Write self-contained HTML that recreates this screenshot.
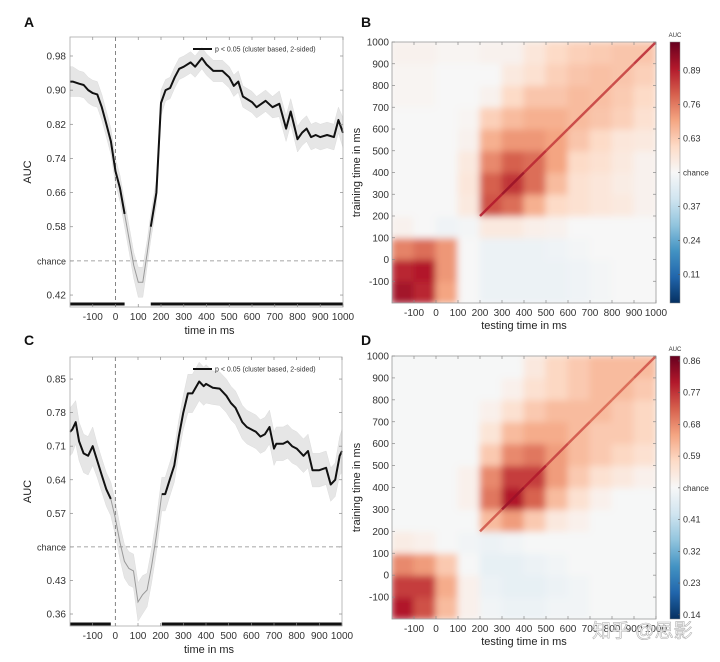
<!DOCTYPE html>
<html><head><meta charset="utf-8"><style>
html,body{margin:0;padding:0;background:#fff;}
svg{display:block;font-family:"Liberation Sans","Noto Sans CJK SC",sans-serif;}
</style></head><body>
<svg id="fig" width="720" height="662" viewBox="0 0 720 662">
<defs>
<filter id="blur" x="-5%" y="-5%" width="110%" height="110%"><feGaussianBlur stdDeviation="3.5"/></filter>
<clipPath id="clipB"><rect x="392" y="42" width="264" height="261"/></clipPath>
<clipPath id="clipD"><rect x="392" y="356" width="264" height="263"/></clipPath>
<linearGradient id="cbar" x1="0" y1="1" x2="0" y2="0">
<stop offset="0" stop-color="#053061"/><stop offset="0.1" stop-color="#2166ac"/><stop offset="0.2" stop-color="#4393c3"/><stop offset="0.3" stop-color="#92c5de"/><stop offset="0.4" stop-color="#d1e5f0"/><stop offset="0.5" stop-color="#f7f7f7"/><stop offset="0.6" stop-color="#fddbc7"/><stop offset="0.7" stop-color="#f4a582"/><stop offset="0.8" stop-color="#d6604d"/><stop offset="0.9" stop-color="#b2182b"/><stop offset="1" stop-color="#67001f"/>
</linearGradient>
</defs>
</svg>
<script>
// ---------- Data ----------
const timesA=[-200,-188,-160,-140,-120,-100,-80,-60,-40,-20,0,20,40,60,80,100,120,140,155,180,200,220,240,260,280,300,330,350,380,400,430,470,500,520,540,560,600,620,660,690,720,750,770,800,820,840,860,880,900,930,960,980,1000];
const aucA=[0.92,0.92,0.915,0.912,0.90,0.893,0.89,0.86,0.82,0.78,0.71,0.67,0.61,0.55,0.49,0.45,0.45,0.52,0.58,0.66,0.87,0.90,0.905,0.93,0.95,0.955,0.965,0.955,0.975,0.96,0.945,0.945,0.93,0.91,0.92,0.885,0.872,0.86,0.875,0.86,0.868,0.81,0.85,0.785,0.80,0.81,0.79,0.795,0.79,0.795,0.79,0.83,0.80];
const errA=[0.035,0.035,0.03,0.03,0.03,0.03,0.03,0.03,0.03,0.03,0.03,0.03,0.03,0.03,0.03,0.035,0.035,0.03,0.03,0.03,0.03,0.025,0.025,0.025,0.025,0.025,0.025,0.025,0.025,0.025,0.025,0.025,0.025,0.025,0.025,0.025,0.025,0.025,0.025,0.025,0.03,0.03,0.03,0.03,0.03,0.03,0.03,0.03,0.03,0.03,0.03,0.03,0.035];
const sigA=[[-200,40],[155,1000]];
const ticksA=[0.42,0.58,0.66,0.74,0.82,0.90,0.98];
const timesC=[-200,-190,-175,-160,-140,-120,-100,-80,-60,-40,-20,0,20,40,60,80,100,120,140,160,180,205,220,240,260,280,300,320,340,370,390,400,430,460,490,510,530,560,580,620,640,660,680,700,710,740,760,780,800,830,850,870,900,930,950,970,990,1000];
const aucC=[0.74,0.745,0.76,0.72,0.695,0.69,0.71,0.68,0.65,0.62,0.60,0.56,0.51,0.47,0.455,0.45,0.385,0.40,0.41,0.46,0.52,0.61,0.61,0.64,0.67,0.73,0.78,0.82,0.82,0.845,0.835,0.84,0.832,0.83,0.815,0.80,0.79,0.76,0.75,0.74,0.73,0.735,0.75,0.705,0.715,0.715,0.72,0.71,0.705,0.69,0.70,0.66,0.66,0.665,0.63,0.64,0.69,0.70];
const errC=[0.05,0.05,0.045,0.04,0.04,0.04,0.04,0.035,0.035,0.035,0.035,0.035,0.035,0.035,0.035,0.035,0.04,0.04,0.035,0.035,0.035,0.035,0.035,0.035,0.035,0.035,0.035,0.04,0.04,0.04,0.04,0.04,0.035,0.035,0.035,0.035,0.035,0.035,0.035,0.035,0.035,0.035,0.035,0.035,0.035,0.035,0.035,0.035,0.035,0.035,0.035,0.035,0.035,0.035,0.035,0.035,0.04,0.045];
const sigC=[[-200,-20],[205,1000]];
const ticksC=[0.36,0.43,0.57,0.64,0.71,0.78,0.85];
const xTicks=[-100,0,100,200,300,400,500,600,700,800,900,1000];
const hmTicks=[-100,0,100,200,300,400,500,600,700,800,900,1000];
const binEdges=[-200,-100,0,100,200,300,400,500,600,700,800,900,1000];
const matB=[
[0.92,0.88,0.70,0.50,0.47,0.47,0.47,0.47,0.48,0.49,0.50,0.50],
[0.88,0.90,0.72,0.50,0.47,0.47,0.47,0.47,0.48,0.49,0.50,0.50],
[0.75,0.78,0.72,0.50,0.47,0.47,0.47,0.48,0.49,0.50,0.50,0.50],
[0.52,0.50,0.48,0.49,0.55,0.55,0.53,0.52,0.50,0.50,0.50,0.50],
[0.50,0.50,0.50,0.55,0.82,0.78,0.68,0.60,0.58,0.56,0.55,0.52],
[0.50,0.50,0.50,0.56,0.80,0.86,0.78,0.66,0.58,0.56,0.54,0.52],
[0.50,0.50,0.50,0.55,0.74,0.80,0.78,0.70,0.60,0.58,0.55,0.52],
[0.50,0.50,0.50,0.52,0.68,0.72,0.72,0.70,0.64,0.60,0.56,0.55],
[0.50,0.50,0.50,0.51,0.62,0.66,0.68,0.68,0.66,0.64,0.62,0.58],
[0.51,0.51,0.50,0.50,0.52,0.60,0.64,0.64,0.66,0.65,0.63,0.60],
[0.51,0.51,0.50,0.50,0.50,0.55,0.58,0.62,0.64,0.65,0.64,0.62],
[0.52,0.52,0.51,0.51,0.52,0.52,0.56,0.60,0.62,0.63,0.64,0.64]];
const diagB=[0.90,0.93,0.88,0.85,0.85,0.85,0.85,0.88];
const matD=[
[0.80,0.74,0.62,0.52,0.49,0.48,0.48,0.49,0.49,0.50,0.50,0.50],
[0.76,0.76,0.64,0.52,0.48,0.47,0.47,0.48,0.49,0.50,0.50,0.50],
[0.68,0.66,0.60,0.50,0.47,0.47,0.48,0.49,0.50,0.50,0.50,0.50],
[0.53,0.52,0.50,0.49,0.48,0.49,0.50,0.50,0.50,0.50,0.50,0.50],
[0.50,0.50,0.50,0.50,0.62,0.66,0.60,0.54,0.52,0.50,0.50,0.50],
[0.50,0.50,0.50,0.52,0.70,0.80,0.72,0.62,0.56,0.52,0.50,0.50],
[0.50,0.50,0.50,0.52,0.68,0.76,0.76,0.66,0.60,0.56,0.54,0.52],
[0.50,0.50,0.50,0.50,0.60,0.68,0.70,0.66,0.62,0.60,0.58,0.56],
[0.50,0.50,0.50,0.50,0.55,0.62,0.64,0.64,0.62,0.60,0.60,0.58],
[0.50,0.50,0.50,0.50,0.52,0.56,0.60,0.62,0.62,0.62,0.60,0.58],
[0.50,0.50,0.50,0.50,0.50,0.52,0.56,0.58,0.60,0.62,0.62,0.60],
[0.50,0.50,0.50,0.50,0.50,0.50,0.54,0.58,0.60,0.62,0.62,0.62]];
const diagD=[0.74,0.82,0.80,0.76,0.74,0.72,0.72,0.74];
const cbTicksB=[0.11,0.24,0.37,0.63,0.76,0.89];
const cbTicksD=[0.14,0.23,0.32,0.41,0.59,0.68,0.77,0.86];

// ---------- Helpers ----------
const svg=document.getElementById('fig');
const NS='http://www.w3.org/2000/svg';
function el(tag,attrs,parent){const e=document.createElementNS(NS,tag);for(const k in attrs)e.setAttribute(k,attrs[k]);(parent||svg).appendChild(e);return e;}
function txt(s,attrs,parent){const e=el('text',attrs,parent);e.textContent=s;return e;}
const stops=[[0,[5,48,97]],[0.1,[33,102,172]],[0.2,[67,147,195]],[0.3,[146,197,222]],[0.4,[209,229,240]],[0.5,[247,247,247]],[0.6,[253,219,199]],[0.7,[244,165,130]],[0.8,[214,96,77]],[0.9,[178,24,43]],[1,[103,0,31]]];
function cmap(t){t=Math.max(0,Math.min(1,t));for(let i=1;i<stops.length;i++){if(t<=stops[i][0]){const a=stops[i-1],b=stops[i];const f=(t-a[0])/(b[0]-a[0]);const c=a[1].map((v,j)=>Math.round(v+(b[1][j]-v)*f));return 'rgb('+c.join(',')+')';}}return 'rgb(103,0,31)';}

// ---------- Line panels ----------
function linePanel(cfg){
  const g=el('g',{});
  
  
  const X=t=>cfg.x0+(t-(-200))/(1000-(-200))*(cfg.x1-cfg.x0);
  const Y=v=>cfg.y1-(v-cfg.vmin)/(cfg.vmax-cfg.vmin)*(cfg.y1-cfg.y0);
  let up=cfg.t.map((t,i)=>X(t).toFixed(1)+','+Y(cfg.v[i]+cfg.e[i]).toFixed(1));
  let dn=cfg.t.map((t,i)=>X(t).toFixed(1)+','+Y(cfg.v[i]-cfg.e[i]).toFixed(1)).reverse();
  const band=el('polygon',{points:up.concat(dn).join(' '),fill:'#e6e6e6',stroke:'#dcdcdc','stroke-width':0.5},g);
  
  
  const ch=el('line',{x1:cfg.x0,x2:cfg.x1,y1:Y(0.5),y2:Y(0.5),stroke:'#888','stroke-width':0.8,'stroke-dasharray':'4,3'},g);
  
  
  const z=el('line',{x1:X(0),x2:X(0),y1:cfg.y0,y2:cfg.y1,stroke:'#666','stroke-width':0.8,'stroke-dasharray':'4,3'},g);
  
  
  const pts=cfg.t.map((t,i)=>X(t).toFixed(1)+','+Y(cfg.v[i]).toFixed(1)).join(' ');
  const thin=el('polyline',{points:pts,fill:'none',stroke:'#999','stroke-width':1},g);
  
  
  cfg.sig.forEach(s=>{
    const seg=cfg.t.map((t,i)=>[t,cfg.v[i]]).filter(p=>p[0]>=s[0]&&p[0]<=s[1]);
    const pl=el('polyline',{points:seg.map(p=>X(p[0]).toFixed(1)+','+Y(p[1]).toFixed(1)).join(' '),fill:'none',stroke:'#111','stroke-width':2,'stroke-linejoin':'round'},g);
    
    
    const sb=el('line',{x1:X(s[0]),x2:X(s[1]),y1:cfg.sigY,y2:cfg.sigY,stroke:'#111','stroke-width':3},g);
    
    
  });
  const box=el('rect',{x:cfg.x0,y:cfg.y0,width:cfg.x1-cfg.x0,height:cfg.y1-cfg.y0,fill:'none',stroke:'#aaa','stroke-width':0.8},g);
  
  
  cfg.ticks.concat([0.5]).forEach(v=>{
    const y=Y(v);
    el('line',{x1:cfg.x0,x2:cfg.x0+3,y1:y,y2:y,stroke:'#888','stroke-width':0.7},g);
    el('line',{x1:cfg.x1,x2:cfg.x1-3,y1:y,y2:y,stroke:'#888','stroke-width':0.7},g);
    const lb=txt(v===0.5?'chance':v.toFixed(2),{x:cfg.x0-4,y:y+3.5,'text-anchor':'end','font-size':v===0.5?9:10,fill:'#333'},g);
    
    
  });
  xTicks.forEach(t=>{
    const x=X(t);
    el('line',{x1:x,x2:x,y1:cfg.y1,y2:cfg.y1-3,stroke:'#888','stroke-width':0.7},g);
    el('line',{x1:x,x2:x,y1:cfg.y0,y2:cfg.y0+3,stroke:'#888','stroke-width':0.7},g);
    const lb=txt(String(t),{x:x,y:cfg.y1+13,'text-anchor':'middle','font-size':10,fill:'#333'},g);
    
    
  });
  const xl=txt('time in ms',{x:(cfg.x0+cfg.x1)/2+3,y:cfg.y1+27,'text-anchor':'middle','font-size':11,fill:'#222'},g);
  
  
  const yc=(cfg.y0+cfg.y1)/2;
  const yl=txt('AUC',{x:31,y:yc,'text-anchor':'middle','font-size':11,fill:'#222',transform:'rotate(-90 31 '+yc+')'},g);
  
  
  const lg=el('g',{},g);
  
  
  el('line',{x1:193,x2:212,y1:cfg.legY,y2:cfg.legY,stroke:'#111','stroke-width':2},lg);
  txt('p < 0.05 (cluster based, 2-sided)',{x:215,y:cfg.legY+2.5,'font-size':7,fill:'#333'},lg);
  const L=txt(cfg.letter,{x:24,y:cfg.letterY,'font-size':14,'font-weight':'bold',fill:'#111'},g);
  
  
}
linePanel({name:'panel-a-auc-timecourse',x0:70,x1:343,y0:37,y1:307,vmin:0.392,vmax:1.0245,t:timesA,v:aucA,e:errA,sig:sigA,ticks:ticksA,sigY:304,legY:49,letter:'A',letterY:27});
linePanel({name:'panel-c-auc-timecourse',x0:70,x1:342,y0:357,y1:626,vmin:0.335,vmax:0.896,t:timesC,v:aucC,e:errC,sig:sigC,ticks:ticksC,sigY:624,legY:369,letter:'C',letterY:345});

// ---------- Heatmap panels ----------
function heatPanel(cfg){
  const g=el('g',{});
  
  
  const X=t=>cfg.x0+(t+200)/1200*(cfg.x1-cfg.x0);
  const Y=t=>cfg.y1-(t+200)/1200*(cfg.y1-cfg.y0);
  const norm=v=>(v-cfg.vmin)/(cfg.vmax-cfg.vmin);
  const clip=el('g',{'clip-path':'url(#'+cfg.clip+')'},g);
  el('rect',{x:cfg.x0,y:cfg.y0,width:cfg.x1-cfg.x0,height:cfg.y1-cfg.y0,fill:cmap(norm(0.5))},clip);
  const cells=el('g',{filter:'url(#blur)'},clip);
  
  
  cfg.mat.forEach((row,r)=>row.forEach((v,c)=>{
    const x=X(binEdges[c]),x2=X(binEdges[c+1]),y=Y(binEdges[r+1]),y2=Y(binEdges[r]);
    const rc=el('rect',{x:x-0.5,y:y-0.5,width:x2-x+1,height:y2-y+1,fill:cmap(norm(v))},cells);
    
    
  }));
  cfg.diag.forEach((v,i)=>{
    const a=binEdges[i+4],b=binEdges[i+5];
    const ln=el('line',{x1:X(a),y1:Y(a),x2:X(b),y2:Y(b),stroke:cmap(norm(v)),'stroke-width':2.5,opacity:0.85},clip);
    
    
  });
  const box=el('rect',{x:cfg.x0,y:cfg.y0,width:cfg.x1-cfg.x0,height:cfg.y1-cfg.y0,fill:'none',stroke:'#999','stroke-width':0.8},g);
  
  
  hmTicks.forEach(t=>{
    el('line',{x1:X(t),x2:X(t),y1:cfg.y1,y2:cfg.y1-3,stroke:'#888','stroke-width':0.7},g);
    el('line',{x1:X(t),x2:X(t),y1:cfg.y0,y2:cfg.y0+3,stroke:'#888','stroke-width':0.7},g);
    el('line',{x1:cfg.x0,x2:cfg.x0+3,y1:Y(t),y2:Y(t),stroke:'#888','stroke-width':0.7},g);
    el('line',{x1:cfg.x1,x2:cfg.x1-3,y1:Y(t),y2:Y(t),stroke:'#888','stroke-width':0.7},g);
    const xl=txt(String(t),{x:X(t),y:cfg.y1+13,'text-anchor':'middle','font-size':10,fill:'#333'},g);
    
    
    const yl=txt(String(t),{x:cfg.x0-3,y:Y(t)+3.5,'text-anchor':'end','font-size':10,fill:'#333'},g);
    
    
  });
  const xt=txt('testing time in ms',{x:(cfg.x0+cfg.x1)/2,y:cfg.y1+26,'text-anchor':'middle','font-size':11,fill:'#222'},g);
  
  
  const yc=(cfg.y0+cfg.y1)/2;
  const yt=txt('training time in ms',{x:360,y:yc,'text-anchor':'middle','font-size':11,fill:'#222',transform:'rotate(-90 360 '+yc+')'},g);
  
  
  const cb=el('rect',{x:670,y:cfg.y0,width:10,height:cfg.y1-cfg.y0,fill:'url(#cbar)',stroke:'#888','stroke-width':0.5},g);
  
  
  const CY=v=>cfg.y1-norm(v)*(cfg.y1-cfg.y0);
  cfg.cbt.concat([0.5]).forEach(v=>{
    el('line',{x1:678,x2:680,y1:CY(v),y2:CY(v),stroke:'#555','stroke-width':0.6},g);
    const t=txt(v===0.5?'chance':v.toFixed(2),{x:683,y:CY(v)+3,'font-size':v===0.5?8:9,fill:'#333'},g);
    
    
  });
  const a=txt('AUC',{x:675,y:cfg.y0-5,'text-anchor':'middle','font-size':6,fill:'#333'},g);
  
  
  const L=txt(cfg.letter,{x:361,y:cfg.letterY,'font-size':14,'font-weight':'bold',fill:'#111'},g);
  
  
}
heatPanel({name:'panel-b-generalization-matrix',x0:392,x1:656,y0:42,y1:303,vmin:0,vmax:1,mat:matB,diag:diagB,cbt:cbTicksB,clip:'clipB',letter:'B',letterY:27});
heatPanel({name:'panel-d-generalization-matrix',x0:392,x1:656,y0:356,y1:619,vmin:0.128,vmax:0.874,mat:matD,diag:diagD,cbt:cbTicksD,clip:'clipD',letter:'D',letterY:345});
const wm=txt('知乎 @思影',{x:592,y:637,'font-size':19,fill:'#ffffff',stroke:'#aaaaaa','stroke-width':0.6,opacity:0.9});


</script>
</body></html>
